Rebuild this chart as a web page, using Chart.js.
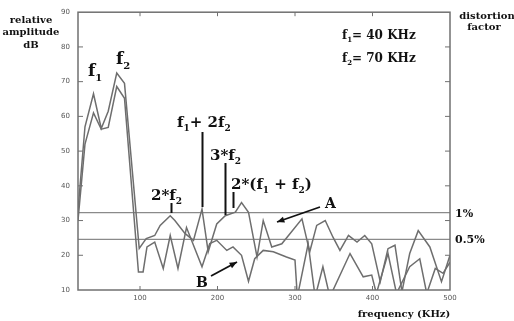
<!DOCTYPE html>
<html>
<head>
<meta charset="utf-8">
<script src="https://cdn.jsdelivr.net/npm/chart.js@4.4.1/dist/chart.umd.min.js"></script>
<style>
  html, body { margin: 0; padding: 0; background: #fff; }
  canvas { display: block; }
</style>
</head>
<body>
<canvas id="spectrumChart" width="514" height="321"></canvas>
<script>
// curve A (upper) and curve B (lower), frequency in kHz, amplitude in dB
const freqA = [20, 29, 40, 50, 59, 70, 80, 99, 108, 119, 126, 139, 145, 158, 169, 180, 188, 199, 210, 223, 231, 240, 251, 259, 270, 283, 309, 319, 328, 339, 349, 358, 369, 380, 390, 399, 410, 420, 429, 438, 448, 459, 474, 489, 500];
const ampA = [33, 57, 66.5, 56.5, 61.5, 72.5, 69.5, 22, 24.8, 25.7, 28.6, 31.4, 30, 26.3, 24.3, 33.3, 21, 29, 31.4, 32.4, 35.2, 32.4, 19.5, 30, 22.4, 23.3, 30.5, 21, 28.6, 30, 25.2, 21.4, 25.7, 23.8, 25.7, 23.3, 12.4, 21.9, 22.9, 9.5, 20.5, 27.1, 22.4, 12.4, 20];
const freqB = [20, 29, 40, 50, 59, 70, 80, 98, 104, 109, 119, 130, 139, 149, 160, 180, 190, 199, 212, 220, 231, 240, 248, 259, 272, 289, 300, 303, 317, 326, 336, 345, 371, 388, 399, 405, 420, 431, 448, 461, 470, 481, 491, 500];
const ampB = [30, 52, 61, 56.3, 56.8, 68.6, 65.2, 15.2, 15.2, 22.4, 23.8, 16.2, 25.7, 16.2, 28, 16.7, 23.4, 24.3, 21.4, 22.4, 20, 12.5, 19, 21.4, 21, 19.5, 18.6, 8, 23.3, 8, 16.7, 8, 20.5, 13.8, 14.3, 9, 20.5, 9, 16.7, 19, 9, 16.2, 14.8, 18];

const freqTicks = [100, 200, 300, 400, 500];
const ampTicks = [10, 20, 30, 40, 50, 60, 70, 80, 90];
const distortionLevels = [32.3, 24.6];      // 1% and 0.5%
const distortionLabels = ['1%', '0.5%'];
const harmonicFreqs = [140, 180, 210, 220]; // 2*f2, f1+2f2, 3*f2, 2*(f1+f2)

const SERIF = '"DejaVu Serif", "Liberation Serif", serif';
const CURVE = '#6e6e6e';

function toPoints(xs, ys) {
    return xs.map(function(x, i) { return { x: x, y: ys[i] }; });
}

// draw text where parts = [[text, isSubscript], ...]
function drawRich(ctx, parts, x, y, size) {
    let cx = x;
    parts.forEach(function(p) {
        const sub = p[1];
        const fs = sub ? Math.round(size * 0.6) : size;
        ctx.font = 'bold ' + fs + 'px ' + SERIF;
        ctx.fillText(p[0], cx, sub ? y + size * 0.28 : y);
        cx += ctx.measureText(p[0]).width;
    });
}

const decorPlugin = {
    id: 'decor',
    afterDatasetsDraw: function(chart) {
        const ctx = chart.ctx;
        const a = chart.chartArea;
        const xs = chart.scales.x;
        const ys = chart.scales.y;
        ctx.save();

        // frame
        ctx.strokeStyle = '#707070';
        ctx.lineWidth = 1.5;
        ctx.strokeRect(a.left, a.top, a.right - a.left, a.bottom - a.top);

        // inward tick marks
        ctx.lineWidth = 1;
        ampTicks.slice(1, -1).forEach(function(v) {
            const py = ys.getPixelForValue(v);
            ctx.beginPath();
            ctx.moveTo(a.left, py); ctx.lineTo(a.left + 5, py);
            ctx.moveTo(a.right, py); ctx.lineTo(a.right - 5, py);
            ctx.stroke();
        });
        freqTicks.slice(0, -1).forEach(function(v) {
            const px = xs.getPixelForValue(v);
            ctx.beginPath();
            ctx.moveTo(px, a.top); ctx.lineTo(px, a.top + 4);
            ctx.moveTo(px, a.bottom); ctx.lineTo(px, a.bottom - 4);
            ctx.stroke();
        });

        // harmonic markers
        ctx.strokeStyle = '#111';
        ctx.lineWidth = 2;
        const spans = [[203, 213], [132, 207], [163, 215], [192, 208]];
        harmonicFreqs.forEach(function(f, i) {
            const px = Math.round(xs.getPixelForValue(f)) + 0.5;
            ctx.beginPath();
            ctx.moveTo(px, spans[i][0]);
            ctx.lineTo(px, spans[i][1]);
            ctx.stroke();
        });

        // arrows to A and B
        function arrow(x1, y1, x2, y2) {
            const ang = Math.atan2(y2 - y1, x2 - x1);
            ctx.beginPath();
            ctx.moveTo(x1, y1); ctx.lineTo(x2, y2);
            ctx.stroke();
            ctx.beginPath();
            ctx.moveTo(x2, y2);
            ctx.lineTo(x2 - 8 * Math.cos(ang - 0.4), y2 - 8 * Math.sin(ang - 0.4));
            ctx.lineTo(x2 - 8 * Math.cos(ang + 0.4), y2 - 8 * Math.sin(ang + 0.4));
            ctx.closePath();
            ctx.fill();
        }
        ctx.fillStyle = '#111';
        ctx.lineWidth = 1.8;
        arrow(320, 207, 277, 222);
        arrow(211, 276, 237, 262);

        // labels
        ctx.textBaseline = 'alphabetic';
        ctx.textAlign = 'left';
        drawRich(ctx, [['f', 0], ['1', 1]], 88, 76, 17);
        drawRich(ctx, [['f', 0], ['2', 1]], 116, 64, 17);
        drawRich(ctx, [['f', 0], ['1', 1], ['+ 2f', 0], ['2', 1]], 177, 127, 15);
        drawRich(ctx, [['3*f', 0], ['2', 1]], 210, 160, 15);
        drawRich(ctx, [['2*(f', 0], ['1', 1], [' + f', 0], ['2', 1], [')', 0]], 231, 189, 15);
        drawRich(ctx, [['2*f', 0], ['2', 1]], 151, 200, 15);
        drawRich(ctx, [['f', 0], ['1', 1], ['= 40 KHz', 0]], 342, 39, 12);
        drawRich(ctx, [['f', 0], ['2', 1], ['= 70 KHz', 0]], 342, 62, 12);
        drawRich(ctx, [['A', 0]], 325, 208, 14);
        drawRich(ctx, [['B', 0]], 196, 287, 14);

        // distortion level labels
        ctx.font = 'bold 11px ' + SERIF;
        distortionLevels.forEach(function(v, i) {
            ctx.fillText(distortionLabels[i], a.right + 5, ys.getPixelForValue(v) + 4);
        });

        // axis titles
        ctx.textAlign = 'center';
        ctx.font = 'bold 10px ' + SERIF;
        ctx.fillText('relative', 31, 23);
        ctx.fillText('amplitude', 31, 35);
        ctx.fillText('dB', 31, 48);
        ctx.fillText('distortion', 487, 19);
        ctx.fillText('factor', 484, 30);
        ctx.fillText('frequency (KHz)', 404, 317);

        ctx.restore();
    }
};

document.addEventListener('DOMContentLoaded', function() {
    const ctx = document.getElementById('spectrumChart').getContext('2d');
    new Chart(ctx, {
        type: 'line',
        data: {
            datasets: [
                {
                    label: 'A',
                    data: toPoints(freqA, ampA),
                    borderColor: CURVE,
                    borderWidth: 1.5,
                    pointRadius: 0,
                    tension: 0
                },
                {
                    label: 'B',
                    data: toPoints(freqB, ampB),
                    borderColor: CURVE,
                    borderWidth: 1.5,
                    pointRadius: 0,
                    tension: 0
                },
                {
                    label: '1%',
                    data: toPoints([20, 500], [distortionLevels[0], distortionLevels[0]]),
                    borderColor: '#8a8a8a',
                    borderWidth: 1.2,
                    pointRadius: 0
                },
                {
                    label: '0.5%',
                    data: toPoints([20, 500], [distortionLevels[1], distortionLevels[1]]),
                    borderColor: '#8a8a8a',
                    borderWidth: 1.2,
                    pointRadius: 0
                }
            ]
        },
        options: {
            responsive: false,
            animation: false,
            devicePixelRatio: 1,
            layout: { padding: { left: 0, right: 64, top: 10, bottom: 0 } },
            plugins: {
                legend: { display: false },
                tooltip: { enabled: false }
            },
            scales: {
                x: {
                    type: 'linear',
                    min: 20,
                    max: 500,
                    afterBuildTicks: function(scale) {
                        scale.ticks = freqTicks.map(function(v) { return { value: v }; });
                    },
                    afterFit: function(scale) { scale.height = 31; },
                    grid: { display: false, drawTicks: false },
                    border: { display: false },
                    ticks: {
                        padding: 4,
                        color: '#555',
                        font: { size: 7, family: 'DejaVu Sans' },
                        maxRotation: 0
                    }
                },
                y: {
                    min: 10,
                    max: 90,
                    afterBuildTicks: function(scale) {
                        scale.ticks = ampTicks.map(function(v) { return { value: v }; });
                    },
                    afterFit: function(scale) { scale.width = 78; },
                    grid: { display: false, drawTicks: false },
                    border: { display: false },
                    ticks: {
                        padding: 8,
                        color: '#555',
                        font: { size: 7, family: 'DejaVu Sans' }
                    }
                }
            }
        },
        plugins: [decorPlugin]
    });
});
</script>
</body>
</html>
